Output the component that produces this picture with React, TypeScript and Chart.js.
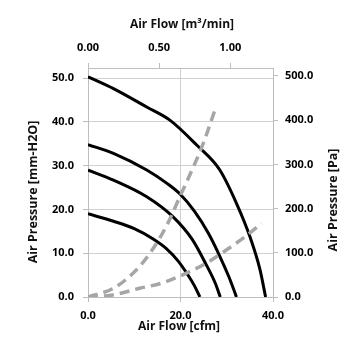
import React, { useEffect, useRef } from "react";
import Chart from "chart.js/auto";

// Fan curves (Air Flow [cfm] vs Air Pressure [mm-H2O])
const fan1Cfm = [0, 5.5, 12.7, 17.7, 23.5, 28.5, 32.1, 35.0, 37.2, 38.4];
const fan1Mm = [50.3, 47.6, 43.4, 40.4, 34.7, 29.0, 21.4, 13.8, 6.2, 0];

const fan2Cfm = [0, 5.5, 12.7, 17.0, 20.0, 23.0, 26.0, 28.5, 30.5, 32.1];
const fan2Mm = [34.8, 32.8, 29.0, 26.0, 23.4, 19.6, 14.6, 9.3, 4.5, 0];

const fan3Cfm = [0, 5.5, 12.7, 18.4, 22.5, 25.5, 27.5, 28.6];
const fan3Mm = [29.0, 26.7, 22.9, 18.3, 13.2, 7.5, 3.2, 0];

const fan4Cfm = [0, 5.5, 10.0, 14.0, 17.0, 19.5, 21.5, 23.0, 24.2];
const fan4Mm = [19.0, 17.3, 15.6, 13.3, 11.0, 8.2, 5.2, 2.6, 0];

// System impedance curves (dashed)
const sysHighCfm = [0, 5.5, 10.0, 13.4, 17.0, 19.9, 22.7, 25.0, 27.5];
const sysHighMm = [0, 2.0, 5.7, 10.0, 16.3, 23.0, 29.5, 35.3, 42.9];

const sysLowCfm = [0, 5.0, 11.2, 16.0, 22.0, 25.7, 30.0, 34.0, 37.5];
const sysLowMm = [0, 0.4, 2.0, 3.2, 5.8, 7.8, 10.8, 13.8, 16.8];

// Axes
const cfmRange = [0, 40];
const cmmRange = [0, 1.3];
const mmRange = [0, 52.3];
const paRange = [0, 518];

const topTitle = "Air Flow [m³/min]";
const bottomTitle = "Air Flow [cfm]";
const leftTitle = "Air Pressure [mm-H2O]";
const rightTitle = "Air Pressure [Pa]";

const FONT = "'Open Sans', 'Liberation Sans', sans-serif";

const toPts = (xs: number[], ys: number[]) => xs.map((x, i) => ({ x, y: ys[i] }));

export default function App() {
  const ref = useRef<HTMLCanvasElement | null>(null);

  useEffect(() => {
    if (!ref.current) return;
    const tickFont = { family: FONT, size: 11, weight: "bold" as const };
    const gridColor = "#d0d0d0";
    const axisColor = "#bdbdbd";

    const solid = (xs: number[], ys: number[]) => ({
      data: toPts(xs, ys),
      borderColor: "#000000",
      borderWidth: 3,
      pointRadius: 0,
      fill: false,
      cubicInterpolationMode: "monotone" as const,
      xAxisID: "x",
      yAxisID: "y",
    });
    const dashed = (xs: number[], ys: number[]) => ({
      data: toPts(xs, ys),
      borderColor: "#a6a6a6",
      borderWidth: 3.5,
      borderDash: [10, 6],
      pointRadius: 0,
      fill: false,
      cubicInterpolationMode: "monotone" as const,
      xAxisID: "x",
      yAxisID: "y",
    });

    const titlePlugin = {
      id: "customTitles",
      afterDraw(chart: any) {
        const ctx = chart.ctx as CanvasRenderingContext2D;
        ctx.save();
        ctx.fillStyle = "#111111";
        ctx.font = `bold 12px ${FONT}`;
        ctx.textAlign = "center";
        ctx.textBaseline = "middle";
        ctx.fillText(topTitle, 182, 25);
        ctx.fillText(bottomTitle, 179, 327);
        ctx.font = `bold 12.5px ${FONT}`;
        ctx.save();
        ctx.translate(33, 192);
        ctx.rotate(-Math.PI / 2);
        ctx.fillText(leftTitle, 0, 0);
        ctx.restore();
        ctx.save();
        ctx.translate(333, 200);
        ctx.rotate(-Math.PI / 2);
        ctx.fillText(rightTitle, 0, 0);
        ctx.restore();
        ctx.restore();
      },
    };

    const chart = new Chart(ref.current, {
      type: "line",
      data: {
        datasets: [
          dashed(sysHighCfm, sysHighMm),
          dashed(sysLowCfm, sysLowMm),
          solid(fan1Cfm, fan1Mm),
          solid(fan2Cfm, fan2Mm),
          solid(fan3Cfm, fan3Mm),
          solid(fan4Cfm, fan4Mm),
        ] as any,
      },
      options: {
        animation: false,
        responsive: false,
        devicePixelRatio: 1,
        layout: { padding: 0 },
        plugins: { legend: { display: false }, tooltip: { enabled: false }, title: { display: false } },
        scales: {
          x: {
            type: "linear",
            position: "bottom",
            min: cfmRange[0],
            max: cfmRange[1],
            afterFit: (s: any) => { s.height = 58; },
            ticks: {
              stepSize: 20,
              includeBounds: false,
              autoSkip: false,
              maxRotation: 0,
              padding: 7,
              color: "#000",
              font: tickFont,
              callback: (v: any) => Number(v).toFixed(1),
            },
            grid: { color: gridColor, tickColor: axisColor, tickLength: 5, lineWidth: 1 },
            border: { color: axisColor, width: 1 },
          },
          x2: {
            type: "linear",
            position: "top",
            min: cmmRange[0],
            max: cmmRange[1],
            afterFit: (s: any) => { s.height = 68; },
            ticks: {
              stepSize: 0.5,
              includeBounds: false,
              autoSkip: false,
              maxRotation: 0,
              padding: 9,
              color: "#000",
              font: tickFont,
              callback: (v: any) => Number(v).toFixed(2),
            },
            grid: { drawOnChartArea: false, tickColor: axisColor, tickLength: 5 },
            border: { color: axisColor, width: 1 },
          },
          y: {
            type: "linear",
            position: "left",
            min: mmRange[0],
            max: mmRange[1],
            afterFit: (s: any) => { s.width = 88; },
            ticks: {
              stepSize: 10,
              includeBounds: false,
              autoSkip: false,
              padding: 9,
              color: "#000",
              font: tickFont,
              callback: (v: any) => Number(v).toFixed(1),
            },
            grid: { color: gridColor, tickColor: axisColor, tickLength: 5, lineWidth: 1 },
            border: { color: axisColor, width: 1 },
          },
          y2: {
            type: "linear",
            position: "right",
            min: paRange[0],
            max: paRange[1],
            afterFit: (s: any) => { s.width = 82; },
            ticks: {
              stepSize: 100,
              includeBounds: false,
              autoSkip: false,
              padding: 7,
              color: "#000",
              font: tickFont,
              callback: (v: any) => Number(v).toFixed(1),
            },
            grid: { drawOnChartArea: false, tickColor: axisColor, tickLength: 5 },
            border: { color: axisColor, width: 1 },
          },
        },
      } as any,
      plugins: [titlePlugin],
    });
    return () => chart.destroy();
  }, []);

  return (
    <div style={{ position: "absolute", left: 0, top: 0, width: 355, height: 355, background: "#fff" }}>
      <canvas ref={ref} width={355} height={355} style={{ width: 355, height: 355, display: "block" }} />
    </div>
  );
}
